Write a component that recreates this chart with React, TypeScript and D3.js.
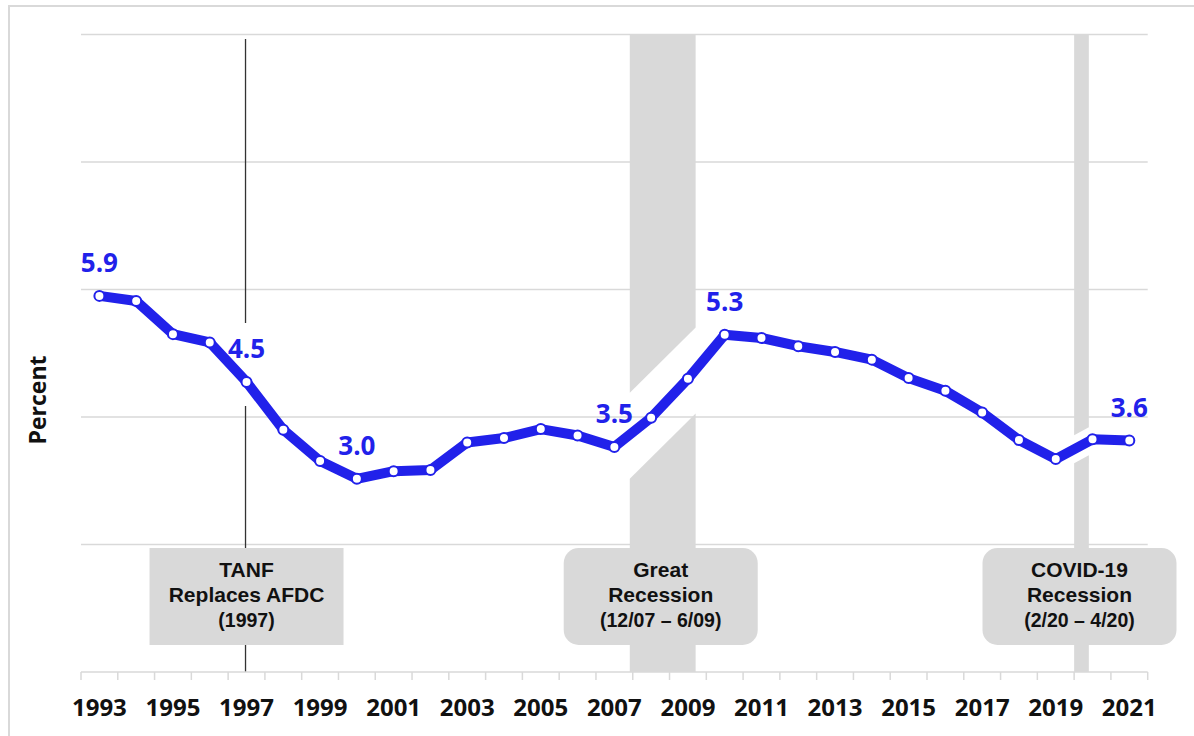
import * as d3 from "d3";
import { useRef, useEffect } from "react";

// Years on the x axis and the yearly percentages
const years = d3.range(1993, 2022);
const percent = [
  5.9, 5.82, 5.3, 5.17, 4.55, 3.8, 3.31, 3.03, 3.15, 3.17,
  3.6, 3.67, 3.81, 3.71, 3.53, 3.99, 4.6, 5.29, 5.24, 5.11,
  5.02, 4.9, 4.61, 4.41, 4.07, 3.64, 3.34, 3.65, 3.63,
];
const tickYears = years.filter(y => y % 2 === 1);
const gridValues = [2, 4, 6, 8, 10];

// Callout labels on the line
const calloutYears = [1993, 1997, 2000, 2007, 2010, 2021];
const calloutText = ["5.9", "4.5", "3.0", "3.5", "5.3", "3.6"];

// Recession periods (fractional position inside year bands)
const recessionStart = [2007.92, 2020.0];
const recessionEnd = [2009.71, 2020.4];
const recessionLines = [
  ["Great", "Recession", "(12/07 \u2013 6/09)"],
  ["COVID-19", "Recession", "(2/20 \u2013 4/20)"],
];
const tanfYear = 1997;
const tanfLines = ["TANF", "Replaces AFDC", "(1997)"];

const W = 1194, H = 736;
const BLUE = "#2121ea";
const FONT = "'Open Sans', 'DejaVu Sans', sans-serif";
const BOX_FONT = "'Liberation Sans', Arial, sans-serif";

const App = () => {
  const ref = useRef<SVGSVGElement>(null);

  useEffect(() => {
    const svg = d3.select(ref.current);
    svg.selectAll("*").remove();

    const x = d3.scaleBand<number>()
      .domain(years)
      .range([81, 1147.7])
      .paddingInner(0)
      .paddingOuter(0);
    const bw = x.bandwidth();
    const cx = (yr: number) => (x(yr) as number) + bw / 2;
    const fx = (pos: number) => x.range()[0] + (pos - years[0]) * bw;

    const y = d3.scaleLinear().domain([0, 10]).range([672, 34.5]);

    const pts = years.map((yr, i) => [cx(yr), y(percent[i])] as [number, number]);
    const lineYAt = (px: number) => {
      for (let i = 0; i < pts.length - 1; i++) {
        const [x0, y0] = pts[i], [x1, y1] = pts[i + 1];
        if (px >= x0 && px <= x1) return y0 + (y1 - y0) * (px - x0) / (x1 - x0);
      }
      return pts[pts.length - 1][1];
    };

    // outer frame
    svg.append("rect")
      .attr("x", 9).attr("y", 6).attr("width", 1300).attr("height", 900)
      .attr("fill", "white").attr("stroke", "#d9d9d9").attr("stroke-width", 2);

    // gridlines
    svg.append("g").selectAll("line").data(gridValues).join("line")
      .attr("x1", x.range()[0]).attr("x2", x.range()[1])
      .attr("y1", d => y(d)).attr("y2", d => y(d))
      .attr("stroke", "#d9d9d9").attr("stroke-width", 1.5);

    // recession bands with a break around the line
    const gapHalf = [[42, 44], [14, 14]];
    recessionStart.forEach((s, i) => {
      const x0 = fx(s), x1 = fx(recessionEnd[i]);
      const yl = lineYAt(x0), yr = lineYAt(x1);
      const [up, down] = gapHalf[i];
      const top = y(10), bottom = y(0);
      svg.append("path")
        .attr("d", `M${x0},${top}L${x1},${top}L${x1},${yr - up}L${x0},${yl - up}Z`)
        .attr("fill", "#d9d9d9");
      svg.append("path")
        .attr("d", `M${x0},${yl + down}L${x1},${yr + down}L${x1},${bottom}L${x0},${bottom}Z`)
        .attr("fill", "#d9d9d9");
    });

    // TANF vertical marker, broken for its callout label
    const tx = cx(tanfYear) - 1;
    const tIdx = years.indexOf(tanfYear);
    const ty = y(percent[tIdx]);
    svg.append("line")
      .attr("x1", tx).attr("x2", tx).attr("y1", 39).attr("y2", ty - 59)
      .attr("stroke", "#333").attr("stroke-width", 1.3);
    svg.append("line")
      .attr("x1", tx).attr("x2", tx).attr("y1", ty + 24).attr("y2", y(0))
      .attr("stroke", "#333").attr("stroke-width", 1.3);

    // x axis
    const axis = svg.append("g");
    axis.append("line")
      .attr("x1", x.range()[0]).attr("x2", x.range()[1])
      .attr("y1", y(0)).attr("y2", y(0))
      .attr("stroke", "#d9d9d9").attr("stroke-width", 1.5);
    axis.selectAll("line.tick").data([...years, years[years.length - 1] + 1]).join("line")
      .attr("class", "tick")
      .attr("x1", d => fx(d)).attr("x2", d => fx(d))
      .attr("y1", y(0)).attr("y2", y(0) + 8)
      .attr("stroke", "#d9d9d9").attr("stroke-width", 1.5);
    axis.selectAll("text").data(tickYears).join("text")
      .attr("x", d => cx(d)).attr("y", 716)
      .attr("text-anchor", "middle")
      .attr("font-family", FONT).attr("font-weight", 700).attr("font-size", 24)
      .attr("fill", "#111")
      .text(d => d);

    // y axis title
    svg.append("text")
      .attr("transform", "translate(46,400) rotate(-90)")
      .attr("text-anchor", "middle")
      .attr("font-family", FONT).attr("font-weight", 700).attr("font-size", 23)
      .attr("fill", "#111")
      .text("Percent");

    // annotation boxes, one text element per box
    const boxW = 194, boxTop = 548, boxH = 97;
    const boxes = [
      { cxp: cx(tanfYear), lines: tanfLines, rx: 0 },
      ...recessionStart.map((s, i) => ({
        cxp: (fx(s) + fx(recessionEnd[i])) / 2 - 2, lines: recessionLines[i], rx: 15,
      })),
    ];
    boxes.forEach(b => {
      svg.append("rect")
        .attr("x", b.cxp - boxW / 2).attr("y", boxTop)
        .attr("width", boxW).attr("height", boxH)
        .attr("rx", b.rx)
        .attr("fill", "#d9d9d9");
      const t = svg.append("text")
        .attr("text-anchor", "middle")
        .attr("font-family", BOX_FONT).attr("font-weight", 700)
        .attr("fill", "#111");
      b.lines.forEach((s, j) => {
        t.append("tspan")
          .attr("x", b.cxp).attr("y", boxTop + 21 + j * 25.5)
          .attr("dy", "0.36em")
          .attr("font-size", j === 2 ? 19.5 : 21)
          .text(s);
      });
    });

    // data line
    const line = d3.line<[number, number]>().x(d => d[0]).y(d => d[1]);
    svg.append("path")
      .datum(pts)
      .attr("d", line)
      .attr("fill", "none")
      .attr("stroke", BLUE)
      .attr("stroke-width", 10)
      .attr("stroke-linejoin", "round");

    svg.append("g").selectAll("circle").data(pts).join("circle")
      .attr("cx", d => d[0]).attr("cy", d => d[1])
      .attr("r", 5)
      .attr("fill", "white")
      .attr("stroke", BLUE)
      .attr("stroke-width", 2);

    // callouts
    svg.append("g").selectAll("text").data(calloutYears).join("text")
      .attr("x", d => cx(d))
      .attr("y", d => y(percent[years.indexOf(d)]) - 33)
      .attr("dy", "0.36em")
      .attr("text-anchor", "middle")
      .attr("font-family", FONT).attr("font-weight", 700).attr("font-size", 26)
      .attr("fill", BLUE)
      .text((d, i) => calloutText[i]);
  }, []);

  return (
    <svg
      ref={ref}
      width={W}
      height={H}
      style={{ position: "absolute", left: 0, top: 0, background: "white" }}
    />
  );
};

export default App;
